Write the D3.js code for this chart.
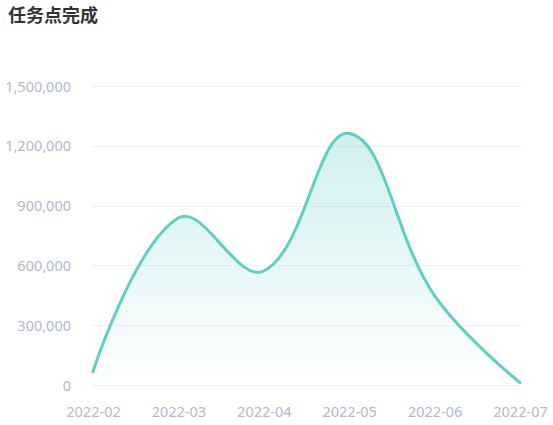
<!DOCTYPE html>
<html>
<head>
<meta charset="utf-8">
<script src="https://cdn.jsdelivr.net/npm/d3@7/dist/d3.min.js"></script>
<style>
  html, body { margin: 0; padding: 0; background: #fff; }
  svg { display: block; }
</style>
</head>
<body>
<svg id="chart" width="553" height="425"></svg>
<script>
const title = "任务点完成";
const months = ["2022-02", "2022-03", "2022-04", "2022-05", "2022-06", "2022-07"];
const values = [67000, 838000, 572000, 1262000, 448000, 12000];
const yTicks = [0, 300000, 600000, 900000, 1200000, 1500000];

const W = 553, H = 425;
const margin = { left: 93, right: 33, top: 86, bottom: 40 };
const svg = d3.select("#chart");
const font = "'Noto Sans', 'Open Sans', sans-serif";

const x = d3.scalePoint().domain(months).range([margin.left, W - margin.right]);
const y = d3.scaleLinear().domain([0, 1500000]).range([H - margin.bottom, margin.top]);

// title
svg.append("text")
  .attr("x", 8).attr("y", 22)
  .attr("font-family", "'Noto Sans CJK SC', sans-serif")
  .attr("font-size", 18).attr("font-weight", "bold")
  .attr("fill", "#333")
  .text(title);

// grid
svg.append("g").selectAll("line").data(yTicks).join("line")
  .attr("x1", margin.left - 1).attr("x2", W - margin.right + 1)
  .attr("y1", d => Math.round(y(d)) + 0.5).attr("y2", d => Math.round(y(d)) + 0.5)
  .attr("stroke", "#eff0f4").attr("stroke-width", 1);

// y axis labels
const yAxis = d3.axisLeft(y).tickValues(yTicks).tickSize(0).tickPadding(0)
  .tickFormat(d3.format(","));
const gy = svg.append("g").attr("transform", `translate(71,0)`).call(yAxis);
gy.select(".domain").remove();
gy.selectAll("text").attr("font-family", font).attr("font-size", 14.5).attr("fill", "#b0b9cd")
  .attr("dy", "0.35em");

// x axis labels
const xAxis = d3.axisBottom(x).tickSize(0).tickPadding(0);
const gx = svg.append("g").attr("transform", `translate(0,${H - margin.bottom})`).call(xAxis);
gx.select(".domain").remove();
gx.selectAll("text").attr("font-family", font).attr("font-size", 14.5).attr("fill", "#b0b9cd")
  .attr("dy", 0).attr("y", 32);

// smooth curve (catmull-rom to bezier, smooth 0.4, distance weighted)
function smoothCurve(context) {
  let pts = [];
  return {
    areaStart() {}, areaEnd() {},
    lineStart() { pts = []; },
    point(px, py) { pts.push([+px, +py]); },
    lineEnd() {
      const n = pts.length;
      if (!n) return;
      const s = 0.4;
      const cps = [];
      const minX = margin.left, maxX = W - margin.right, minY = margin.top, maxY = H - margin.bottom;
      for (let i = 0; i < n; i++) {
        const p = pts[i];
        if (i === 0 || i === n - 1) { cps.push(p); continue; }
        const pr = pts[i - 1], nx = pts[i + 1];
        const vx = (nx[0] - pr[0]) * s, vy = (nx[1] - pr[1]) * s;
        let d0 = Math.hypot(p[0] - pr[0], p[1] - pr[1]);
        let d1 = Math.hypot(p[0] - nx[0], p[1] - nx[1]);
        const sum = d0 + d1; d0 /= sum; d1 /= sum;
        const clamp = q => [Math.min(maxX, Math.max(minX, q[0])), Math.min(maxY, Math.max(minY, q[1]))];
        cps.push(clamp([p[0] - vx * d0, p[1] - vy * d0]));
        cps.push(clamp([p[0] + vx * d1, p[1] + vy * d1]));
      }
      context.moveTo(pts[0][0], pts[0][1]);
      for (let i = 0; i < n - 1; i++) {
        const c0 = cps[2 * i], c1 = cps[2 * i + 1], e = pts[i + 1];
        context.bezierCurveTo(c0[0], c0[1], c1[0], c1[1], e[0], e[1]);
      }
    }
  };
}

const line = d3.line().x((d, i) => x(months[i])).y(d => y(d)).curve(smoothCurve);
const linePath = line(values);
const areaPath = linePath + `L${x(months[months.length - 1])},${y(0)}L${x(months[0])},${y(0)}Z`;

const defs = svg.append("defs");
const grad = defs.append("linearGradient").attr("id", "ag")
  .attr("x1", 0).attr("y1", 0).attr("x2", 0).attr("y2", 1);
grad.append("stop").attr("offset", "0%").attr("stop-color", "#5fcfc5").attr("stop-opacity", 0.3);
grad.append("stop").attr("offset", "100%").attr("stop-color", "#5fcfc5").attr("stop-opacity", 0.0);

svg.append("path").attr("d", areaPath).attr("fill", "url(#ag)");
svg.append("path").attr("d", linePath).attr("fill", "none")
  .attr("stroke", "#5fcfc5").attr("stroke-width", 3).attr("stroke-linejoin", "round").attr("stroke-linecap", "round");
</script>
</body>
</html>
